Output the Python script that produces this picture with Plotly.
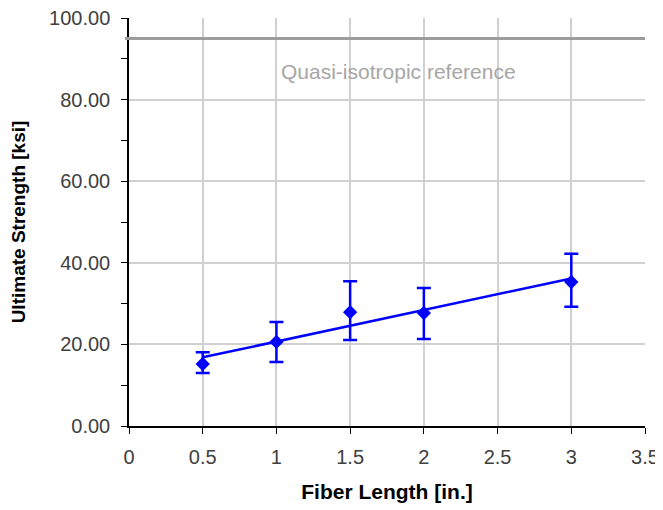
import numpy as np
import plotly.graph_objects as go

fiber_length = [0.5, 1.0, 1.5, 2.0, 3.0]
strength = [15.2, 20.6, 27.9, 27.7, 35.3]
err_plus = [2.9, 4.9, 7.6, 6.1, 6.9]
err_minus = [2.2, 4.9, 6.8, 6.4, 6.1]
reference_value = 95.0
reference_label = "Quasi-isotropic reference"

slope, intercept = np.polyfit(fiber_length, strength, 1)
trend_x = [min(fiber_length), max(fiber_length)]
trend_y = [slope * x + intercept for x in trend_x]

FONT = "Liberation Sans, Arial"

fig = go.Figure()
fig.add_trace(go.Scatter(
    x=trend_x, y=trend_y, mode="lines",
    line=dict(color="#0000FF", width=2.5), showlegend=False, hoverinfo="skip"))
fig.add_trace(go.Scatter(
    x=fiber_length, y=strength, mode="markers",
    marker=dict(symbol="diamond", size=11, color="#0000FF"),
    error_y=dict(type="data", symmetric=False, array=err_plus, arrayminus=err_minus,
                 color="#0000FF", thickness=2.5, width=7),
    showlegend=False))

fig.add_shape(type="line", xref="paper", yref="y", x0=-0.008, x1=1.0,
              y0=reference_value, y1=reference_value,
              line=dict(color="#9C9C9C", width=3))
fig.add_annotation(x=1.825, y=87.0, xref="x", yref="y", text=reference_label,
                   showarrow=False, font=dict(family=FONT, size=21, color="#A6A6A6"))

# page body has an 8px default margin, so the figure is sized/offset accordingly
fig.update_layout(
    width=655, height=502,
    margin=dict(l=121, r=18, t=10, b=84),
    paper_bgcolor="white", plot_bgcolor="white",
    font=dict(family=FONT, size=20, color="#404040"),
    xaxis=dict(range=[0, 3.5], dtick=0.5, tick0=0, showgrid=True, gridcolor="#D0D0D0", gridwidth=1.5,
               showline=True, linecolor="black", linewidth=1.5, ticks="outside", ticklen=6,
               tickcolor="black", zeroline=False, mirror=False, automargin=False,
               tickfont=dict(size=20), ticklabelstandoff=6, ticklabeloverflow="allow",
               title=dict(text="<b>Fiber Length [in.]</b>", font=dict(size=21, color="black"), standoff=18)),
    yaxis=dict(range=[0, 100], dtick=20, tickformat=".2f", showgrid=True, gridcolor="#D0D0D0", gridwidth=1.5,
               showline=True, linecolor="black", linewidth=1.5, ticks="outside", ticklen=6,
               tickcolor="black", zeroline=False, automargin=False,
               tickfont=dict(size=20), ticklabelstandoff=7, ticklabeloverflow="allow",
               minor=dict(dtick=10, ticks="outside", ticklen=6, tickcolor="black", showgrid=False),
               title=dict(text="<b>Ultimate Strength [ksi]</b>", font=dict(size=19, color="black"), standoff=25)),
)

fig.write_html("out.html")
